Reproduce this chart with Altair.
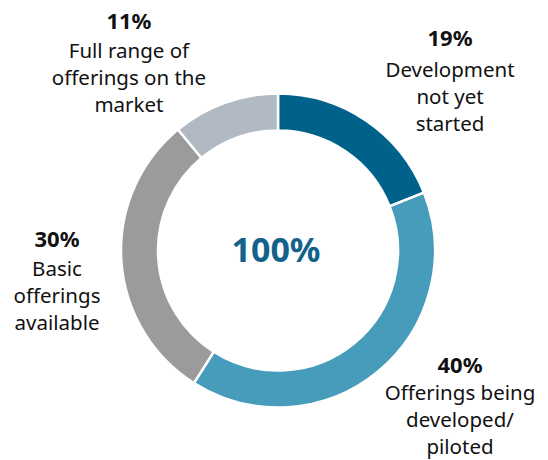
import altair as alt
import pandas as pd

categories = ["Development not yet started", "Offerings being developed/piloted",
              "Basic offerings available", "Full range of offerings on the market"]
label_lines = ["Development\nnot yet\nstarted", "Offerings being\ndeveloped/\npiloted",
               "Basic\nofferings\navailable", "Full range of\nofferings on the\nmarket"]
values = [19, 40, 30, 11]
colors = ["#00628b", "#479bbb", "#9b9b9b", "#b1b9c2"]

df = pd.DataFrame({"cat": categories, "desc": label_lines, "value": values,
                   "order": list(range(len(categories)))})

FONT = "Noto Sans"
CX, CY = 270, 242.5

base = alt.Chart(df).encode(
    theta=alt.Theta("value:Q", stack=True),
    order=alt.Order("order:Q"),
    x=alt.value(CX), y=alt.value(CY),
)

arc = base.mark_arc(outerRadius=157, innerRadius=120, stroke="white", strokeWidth=2.5).encode(
    color=alt.Color("cat:N", scale=alt.Scale(domain=categories, range=colors), legend=None)
)

# per-label offsets (pct dx, pct dy, desc dy)
offsets = {
    categories[0]: (59.6, -45.6, -24.0),
    categories[1]: (54.5, -39.1, -20.5),
    categories[2]: (-21.4, -23.1, -3.0),
    categories[3]: (-81.3, -40.8, -20.7),
}

layers = [arc]
for c in categories:
    dx, dy_p, dy_d = offsets[c]
    pct = base.mark_text(radius=200, dx=dx, dy=dy_p, font=FONT, fontSize=22, fontWeight="bold",
                         color="#111111", align="center", baseline="middle").encode(
        text=alt.condition(f"datum.cat == '{c}'", alt.Text("pct:N"), alt.value(""))
    ).transform_calculate(pct="format(datum.value, 'd') + '%'")
    desc = base.mark_text(radius=200, dx=dx, dy=dy_d, font=FONT, fontSize=20.5,
                          color="#111111", align="center", baseline="top",
                          lineBreak="\n", lineHeight=27).encode(
        text=alt.condition(f"datum.cat == '{c}'", alt.Text("desc:N"), alt.value(""))
    )
    layers += [pct, desc]

center = alt.Chart(df).transform_aggregate(total="sum(value)").transform_calculate(
    lbl="format(datum.total, 'd') + '%'"
).mark_text(font=FONT, fontSize=34, fontWeight="bold", color="#13628c",
            align="center", baseline="middle").encode(
    text="lbl:N", x=alt.value(CX - 2), y=alt.value(CY + 1)
)
layers.append(center)

chart = alt.layer(*layers).properties(
    width=532, height=452, padding=0, autosize=alt.AutoSizeParams(type="none")
).configure_view(stroke=None)

chart.save("out.html", embed_options={"renderer": "svg", "actions": False})
